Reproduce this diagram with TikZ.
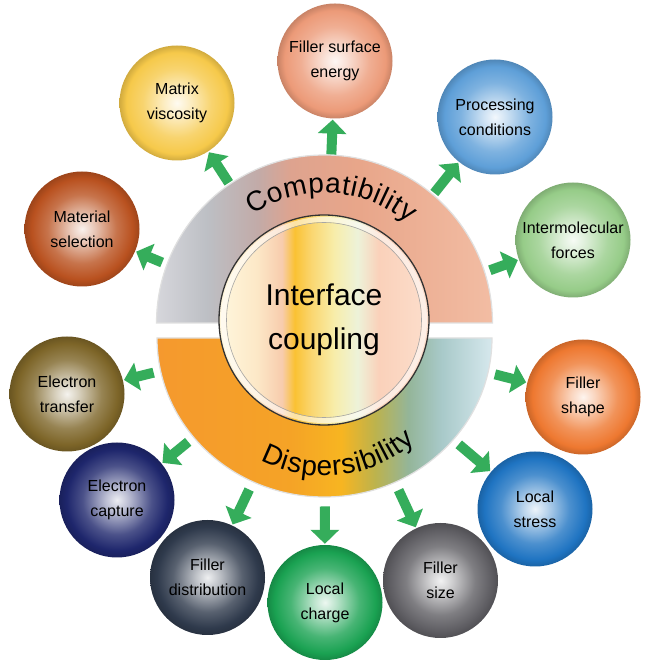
\documentclass[tikz,border=0pt]{standalone}
\usepackage{fontspec}
\setmainfont{Liberation Sans}
\usetikzlibrary{arrows.meta,calc,decorations.text}

\definecolor{flowgreen}{HTML}{35AD5B}
\colorlet{beadc}{gray}
\pgfdeclareradialshading[beadc]{bead}{\pgfpoint{0bp}{0bp}}{%
  color(0bp)=(beadc!8!white); color(5bp)=(beadc!30!white);
  color(15bp)=(beadc!80!white); color(22bp)=(beadc);
  color(25bp)=(beadc!85!black); color(50bp)=(beadc!85!black)}
\pgfdeclarehorizontalshading{compat}{100bp}{%
  rgb(0bp)=(0.84,0.84,0.86); rgb(25bp)=(0.84,0.84,0.86);
  rgb(32.5bp)=(0.74,0.75,0.77); rgb(40bp)=(0.76,0.67,0.66);
  rgb(45bp)=(0.87,0.64,0.56); rgb(55bp)=(0.91,0.65,0.54);
  rgb(75bp)=(0.95,0.74,0.64); rgb(100bp)=(0.95,0.74,0.64)}
\pgfdeclarehorizontalshading{disp}{100bp}{%
  rgb(0bp)=(0.96,0.60,0.18); rgb(25bp)=(0.96,0.60,0.18);
  rgb(45bp)=(0.96,0.64,0.15); rgb(52.5bp)=(0.97,0.71,0.13);
  rgb(57.5bp)=(0.74,0.70,0.30); rgb(62.5bp)=(0.58,0.71,0.60);
  rgb(67.5bp)=(0.66,0.79,0.79); rgb(75bp)=(0.84,0.91,0.93);
  rgb(100bp)=(0.84,0.91,0.93)}
\pgfdeclarehorizontalshading{core}{100bp}{%
  rgb(0bp)=(1,0.97,0.87); rgb(25bp)=(1,0.97,0.87);
  rgb(34bp)=(0.99,0.91,0.78); rgb(40bp)=(0.97,0.80,0.68);
  rgb(43bp)=(0.98,0.76,0.20); rgb(47bp)=(0.98,0.84,0.44);
  rgb(52.5bp)=(0.97,0.93,0.67); rgb(58bp)=(0.93,0.95,0.85);
  rgb(63bp)=(0.98,0.82,0.73); rgb(75bp)=(0.99,0.87,0.80);
  rgb(100bp)=(0.99,0.87,0.80)}

\begin{document}
\begin{tikzpicture}[x=1pt, y=1pt,
    bead/.style={circle, minimum size=115pt, inner sep=0pt, align=center,
        font=\fontsize{16}{25}\selectfont, /utils/exec={\colorlet{beadc}{#1}},
        shade, shading=bead},
    flow/.style={draw=flowgreen, line width=10pt,
        -{Triangle[width=28pt,length=14pt]}, shorten >=1pt},
    band/.style={draw=black!12, line width=1.2pt}]
    \fill[white] (0,0) rectangle (650,667);
    \coordinate (C) at (324.5,336.5);
    \coordinate (CU) at (324.5,344);
    \coordinate (CL) at (324.5,329);

    \node[bead={rgb,255:red,236;green,154;blue,120}] at (335,606) (FSE) {Filler surface\\energy};
    \node[bead={rgb,255:red,246;green,201;blue,74}] at (177,564) (MV) {Matrix\\viscosity};
    \node[bead={rgb,255:red,94;green,159;blue,216}] at (495,550) (PC) {Processing\\conditions};
    \node[bead={rgb,255:red,185;green,81;blue,31}] at (82,438) (MS) {Material\\selection};
    \node[bead={rgb,255:red,150;green,204;blue,136}] at (573,427) (IMF) {Intermolecular\\forces};
    \node[bead={rgb,255:red,125;green,101;blue,40}] at (67,273) (ET) {Electron\\transfer};
    \node[bead={rgb,255:red,238;green,120;blue,48}] at (583,270) (FSH) {Filler\\shape};
    \node[bead={rgb,255:red,30;green,38;blue,108}] at (117,167) (EC) {Electron\\capture};
    \node[bead={rgb,255:red,31;green,116;blue,194}] at (535,158) (LS) {Local\\stress};
    \node[bead={rgb,255:red,47;green,58;blue,76}] at (207.5,89.5) (FD) {Filler\\distribution};
    \node[bead={rgb,255:red,26;green,162;blue,82}] at (325,64.5) (LC) {Local\\charge};
    \node[bead={rgb,255:red,95;green,94;blue,99}] at (440.5,86.5) (FSZ) {Filler\\size};

    \draw[flow] ($(C)!176pt!(MS)$) -- (MS);
    \draw[flow] ($(C)!176pt!(MV)$) -- (MV);
    \draw[flow] ($(C)!176pt!(FSE)$) -- (FSE);
    \draw[flow] ($(C)!176pt!(PC)$) -- (PC);
    \draw[flow] ($(C)!176pt!(IMF)$) -- (IMF);
    \draw[flow] ($(C)!176pt!(ET)$) -- (ET);
    \draw[flow] ($(C)!176pt!(FSH)$) -- (FSH);
    \draw[flow] ($(C)!176pt!(EC)$) -- (EC);
    \draw[flow] ($(C)!176pt!(LS)$) -- (LS);
    \draw[flow] ($(C)!176pt!(FD)$) -- (FD);
    \draw[flow] ($(C)!176pt!(LC)$) -- (LC);
    \draw[flow] ($(C)!176pt!(FSZ)$) -- (FSZ);

    \shadedraw[band, shading=compat] (CU) ++(-168,0) arc[start angle=180, end angle=0, radius=168] -- cycle;
    \shadedraw[band, shading=disp] (CL) ++(-167.5,0) arc[start angle=180, end angle=360, x radius=167.5, y radius=159] -- cycle;
    \path[decorate, decoration={text along path, text align=center,
        text={|\fontsize{28}{30}\selectfont\kern0.6pt|Compatibility}}]
        (CU) ++(137:130) arc[start angle=137, end angle=37, radius=130];
    \path[decorate, decoration={text along path, text align=center,
        text={|\fontsize{28}{30}\selectfont\kern0.7pt|Dispersibility}}]
        (CL) ++(226.7:138) arc[start angle=226.7, end angle=326.7, radius=138];

    \node[circle, minimum size=210pt, inner sep=0pt, shade, shading=core, draw=black!80,
        line width=1.3pt, align=center, font=\fontsize{30}{44}\selectfont] at (324,347) (CORE) {Interface\\coupling};
    \draw[white, opacity=0.55, line width=5pt] (CORE.center) circle[radius=100.5];
    \draw[black!35, line width=0.6pt] (CORE.center) circle[radius=97.5];
\end{tikzpicture}
\end{document}
